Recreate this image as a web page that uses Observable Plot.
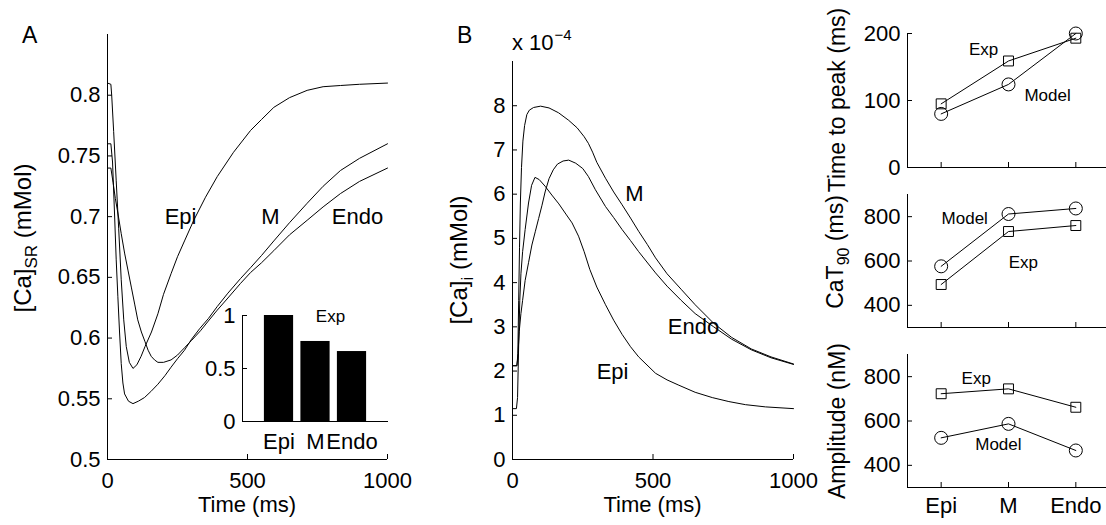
<!DOCTYPE html>
<html><head><meta charset="utf-8">
<script src="https://cdn.jsdelivr.net/npm/d3@7"></script>
<script src="https://cdn.jsdelivr.net/npm/@observablehq/plot@0.6"></script>
<style>
body{margin:0;background:#fff;}
#root{position:relative;width:1106px;height:525px;overflow:hidden;background:#fff;}
#root svg{position:absolute;overflow:visible;}
</style></head><body><div id="root"></div>
<script>
// ---------- data ----------
// Panel A: [Ca]SR (mMol) vs time (ms)
const caSR_Epi = [[0,0.81],[12,0.809],[15,0.80],[22,0.77],[31,0.73],[40,0.69],[49,0.648],[58,0.615],[67,0.593],[78,0.58],[91,0.575],[105,0.578],[120,0.585],[134,0.593],[157,0.605],[180,0.620],[200,0.636],[227,0.653],[250,0.667],[275,0.680],[308,0.697],[350,0.716],[392,0.733],[450,0.753],[511,0.771],[550,0.780],[594,0.790],[650,0.798],[713,0.804],[770,0.807],[832,0.808],[900,0.809],[1000,0.81]];
const caSR_M = [[0,0.76],[12,0.76],[18,0.745],[25,0.703],[31,0.665],[37,0.634],[43,0.605],[49,0.579],[55,0.563],[61,0.554],[75,0.548],[91,0.546],[110,0.548],[132,0.551],[155,0.556],[180,0.562],[205,0.569],[227,0.576],[250,0.583],[275,0.590],[300,0.599],[330,0.608],[360,0.616],[392,0.626],[430,0.637],[475,0.649],[511,0.658],[550,0.668],[594,0.680],[650,0.695],[713,0.711],[770,0.725],[832,0.738],[900,0.748],[1000,0.76]];
const caSR_Endo = [[0,0.74],[12,0.74],[20,0.728],[28,0.715],[37,0.703],[49,0.686],[61,0.670],[73,0.656],[85,0.642],[97,0.628],[108,0.615],[121,0.605],[134,0.597],[145,0.590],[156,0.585],[168,0.582],[180,0.580],[200,0.580],[227,0.582],[250,0.586],[275,0.592],[300,0.598],[332,0.606],[360,0.614],[392,0.623],[430,0.633],[475,0.645],[511,0.654],[550,0.662],[594,0.672],[650,0.685],[713,0.697],[770,0.708],[832,0.719],[900,0.729],[1000,0.74]];
const labelsA = [{text:"Epi",t:261,v:0.70},{text:"M",t:582,v:0.70},{text:"Endo",t:893,v:0.70}];
const ticksA_y = [0.5,0.55,0.6,0.65,0.7,0.75,0.8];
const ticksTime = [0,500,1000];

// Inset: normalized experimental SR release
const regions = ["Epi","M","Endo"];
const insetExp = [1, 0.755, 0.66];
const insetTicks = [0,0.5,1];

// Panel B: [Ca]i (x 1e-4 mMol) vs time (ms)
const caI_Epi = [[0,1.15],[14,1.15],[18,1.4],[22,2.6],[26,3.6],[30,4.2],[36,4.7],[45,5.2],[57,5.8],[68,6.2],[80,6.38],[95,6.33],[116,6.18],[140,5.98],[165,5.78],[190,5.55],[212,5.35],[235,5.05],[255,4.7],[275,4.3],[300,3.9],[331,3.5],[360,3.15],[390,2.83],[420,2.55],[449,2.32],[509,1.95],[550,1.8],[592,1.68],[650,1.52],[711,1.40],[770,1.31],[829,1.24],[900,1.19],[1000,1.15]];
const caI_M = [[0,2.12],[16,2.12],[19,2.4],[22,3.6],[25,4.8],[28,5.8],[32,6.6],[37,7.2],[43,7.55],[51,7.8],[60,7.9],[75,7.96],[100,7.99],[130,7.95],[164,7.84],[200,7.67],[230,7.5],[255,7.3],[270,7.15],[285,6.95],[300,6.72],[331,6.36],[360,6.05],[390,5.76],[420,5.46],[449,5.16],[480,4.86],[509,4.56],[550,4.2],[600,3.85],[650,3.5],[716,3.08],[780,2.76],[850,2.5],[920,2.32],[1000,2.16]];
const caI_Endo = [[0,2.12],[15,2.12],[19,2.3],[24,2.9],[30,3.3],[36,3.6],[45,4.05],[57,4.45],[69,4.85],[81,5.15],[93,5.45],[105,5.75],[116,6.05],[130,6.35],[145,6.55],[160,6.68],[180,6.75],[200,6.77],[225,6.7],[250,6.58],[270,6.4],[295,6.1],[331,5.72],[360,5.47],[390,5.2],[420,4.95],[449,4.7],[509,4.22],[550,3.92],[600,3.6],[650,3.3],[716,3.0],[780,2.72],[850,2.48],[920,2.3],[1000,2.15]];
const labelsB = [{text:"M",t:434,v:6.0},{text:"Endo",t:644,v:3.0},{text:"Epi",t:356,v:1.98}];
const ticksB_y = [0,1,2,3,4,5,6,7,8];

// Right panels (Epi, M, Endo)
const ttpExp = [95,159,193], ttpModel = [80,124,200];
const cat90Exp = [494,733,760], cat90Model = [576,812,837];
const ampExp = [723,745,662], ampModel = [524,587,467];
const ttpLabels = [{text:"Exp",x:1.63,y:176},{text:"Model",x:2.58,y:107}];
const cat90Labels = [{text:"Model",x:1.35,y:792},{text:"Exp",x:2.22,y:593}];
const ampLabels = [{text:"Exp",x:1.52,y:792},{text:"Model",x:1.85,y:494}];

// ---------- drawing ----------
const FONT = '"Liberation Sans", Arial, Helvetica, sans-serif';
const root = document.getElementById("root");
const style = {fontFamily: FONT, fontSize: "22px", background: "transparent", overflow: "visible", color: "black"};
function place(svg, left, top){ svg.style.left = left + "px"; svg.style.top = top + "px"; root.appendChild(svg); }
const rows = (pairs) => pairs.map(([t, v]) => ({t, v}));
const lineStyle = {stroke: "black", strokeWidth: 1};
const TICK = 5;
// MATLAB-style inward ticks: tick marks spanning the frame, inset to leave a 5px stub
function axes(dims, xticks, xfmt, yticks, yfmt, xpad = 13, xInward = true) {
  const W = dims.width - dims.marginLeft - dims.marginRight;
  const H = dims.height - dims.marginTop - dims.marginBottom;
  const out = [
    Plot.axisX({ticks: xticks, tickSize: 0, tickPadding: xpad, label: null, fontSize: 22, tickFormat: xfmt}),
    Plot.axisY({ticks: yticks, tickSize: 0, tickPadding: 7, label: null, fontSize: 22, tickFormat: yfmt}),
    Plot.tickY(yticks, {y: d => d, insetRight: W - TICK, stroke: "black", strokeWidth: 1})
  ];
  if (xInward) out.push(Plot.tickX(xticks, {x: d => d, insetTop: H - TICK, stroke: "black", strokeWidth: 1}));
  return out;
}

// Panel A
const dimA = {width: 400, height: 525, marginLeft: 107, marginRight: 13, marginTop: 34, marginBottom: 66};
place(Plot.plot({
  ...dimA, style,
  x: {domain: [0, 1000]}, y: {domain: [0.5, 0.85]},
  marks: [
    Plot.ruleX([0]), Plot.ruleY([0.5]),
    ...axes(dimA, ticksTime, d => String(d), ticksA_y, d => String(+d.toFixed(2))),
    Plot.line(rows(caSR_Epi), {x: "t", y: "v", ...lineStyle}),
    Plot.line(rows(caSR_M), {x: "t", y: "v", ...lineStyle}),
    Plot.line(rows(caSR_Endo), {x: "t", y: "v", ...lineStyle}),
    Plot.text(labelsA, {x: "t", y: "v", text: "text", fontSize: 22})
  ]
}), 0, 0);

// Inset
const insetRows = regions.map((r, i) => ({r, i: i + 1, v: insetExp[i]}));
const dimI = {width: 200, height: 180, marginLeft: 42, marginRight: 12, marginTop: 25, marginBottom: 49};
place(Plot.plot({
  ...dimI, style,
  x: {domain: [0, 4]}, y: {domain: [0, 1]},
  marks: [
    Plot.rectY(insetRows, {x1: d => d.i - 0.4, x2: d => d.i + 0.4, y1: 0, y2: "v", fill: "black"}),
    Plot.ruleX([0]), Plot.ruleY([0]),
    ...axes(dimI, [1, 2, 3], d => regions[d - 1], insetTicks, d => String(d), 12, false),
    Plot.text([{text: "Exp", x: 2.41, y: 0.99}], {x: "x", y: "y", text: "text", fontSize: 17})
  ]
}), 200, 290);

// Panel B
const dimB = {width: 400, height: 525, marginLeft: 112, marginRight: 7, marginTop: 61, marginBottom: 66};
place(Plot.plot({
  ...dimB, style,
  x: {domain: [0, 1000]}, y: {domain: [0, 9]},
  marks: [
    Plot.ruleX([0]), Plot.ruleY([0]),
    ...axes(dimB, ticksTime, d => String(d), ticksB_y, d => String(d)),
    Plot.line(rows(caI_Epi), {x: "t", y: "v", ...lineStyle}),
    Plot.line(rows(caI_M), {x: "t", y: "v", ...lineStyle}),
    Plot.line(rows(caI_Endo), {x: "t", y: "v", ...lineStyle}),
    Plot.text(labelsB, {x: "t", y: "v", text: "text", fontSize: 22})
  ]
}), 400, 0);

// Right panels
function smallPanel(exp, model, labels, ydom, yticks, top, height, mTop, mBottom, showX) {
  const e = exp.map((y, i) => ({x: i + 1, y}));
  const m = model.map((y, i) => ({x: i + 1, y}));
  const dim = {width: 309, height, marginLeft: 107, marginRight: 0, marginTop: mTop, marginBottom: mBottom};
  place(Plot.plot({
    ...dim, style,
    x: {domain: [0.5, 3.5]}, y: {domain: ydom},
    marks: [
      Plot.ruleX([0.5]), Plot.ruleY([ydom[0]]),
      ...axes(dim, [1, 2, 3], d => showX ? regions[d - 1] : "", yticks, d => String(d), 10),
      Plot.line(e, {x: "x", y: "y", ...lineStyle}),
      Plot.line(m, {x: "x", y: "y", ...lineStyle}),
      Plot.dot(e, {x: "x", y: "y", symbol: "square", r: 5.6, stroke: "black", fill: "none", strokeWidth: 1}),
      Plot.dot(m, {x: "x", y: "y", symbol: "circle", r: 6.5, stroke: "black", fill: "none", strokeWidth: 1}),
      Plot.text(labels, {x: "x", y: "y", text: "text", fontSize: 17})
    ]
  }), 800, top);
}
smallPanel(ttpExp, ttpModel, ttpLabels, [0, 200], [0, 100, 200], 0, 190, 33, 23, false);
smallPanel(cat90Exp, cat90Model, cat90Labels, [300, 900], [400, 600, 800], 175, 162, 19, 10, false);
smallPanel(ampExp, ampModel, ampLabels, [300, 900], [400, 600, 800], 340, 185, 14, 38, true);

// Overlay annotations (panel letters, axis titles)
const ov = d3.create("svg").attr("width", 1106).attr("height", 525)
  .style("left", "0px").style("top", "0px").style("font-family", FONT).style("pointer-events", "none");
ov.append("text").attr("x", 22).attr("y", 43).attr("font-size", 23).text("A");
ov.append("text").attr("x", 457).attr("y", 43).attr("font-size", 23).text("B");
const ex = ov.append("text").attr("x", 512).attr("y", 50).attr("font-size", 22);
ex.append("tspan").text("x 10");
ex.append("tspan").attr("font-size", 15).attr("dy", -10).attr("dx", 1).text("\u22124");
ov.append("text").attr("x", 247).attr("y", 512).attr("font-size", 22).attr("text-anchor", "middle").text("Time (ms)");
ov.append("text").attr("x", 652.5).attr("y", 512).attr("font-size", 22).attr("text-anchor", "middle").text("Time (ms)");
function rotLabel(x, y, parts, size = 23) {
  const t = ov.append("text").attr("transform", `translate(${x},${y}) rotate(-90)`)
    .attr("text-anchor", "middle").attr("font-size", size);
  parts.forEach(p => {
    const s = t.append("tspan").text(p.text);
    if (p.size) s.attr("font-size", p.size);
    if (p.dy) s.attr("dy", p.dy);
  });
}
rotLabel(31, 238, [{text: "[Ca]"}, {text: "SR", size: 17, dy: 6}, {text: " (mMol)", dy: -6}], 24);
rotLabel(467, 260, [{text: "[Ca]"}, {text: "i", size: 17, dy: 6}, {text: " (mMol)", dy: -6}], 24);
rotLabel(845, 100, [{text: "Time to peak (ms)"}]);
rotLabel(843, 252, [{text: "CaT"}, {text: "90", size: 16, dy: 6}, {text: " (ms)", dy: -6}]);
rotLabel(845, 421, [{text: "Amplitude (nM)"}]);
root.appendChild(ov.node());
</script></body></html>
